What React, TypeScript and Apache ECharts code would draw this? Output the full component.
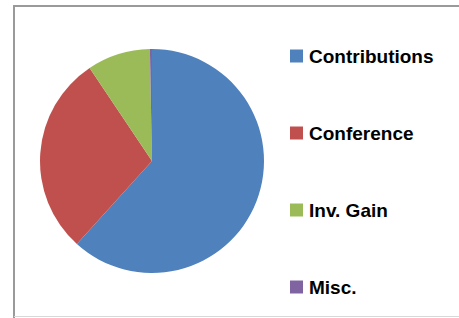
import React, { useEffect, useRef } from "react";
import * as echarts from "echarts";

const categories = ["Contributions", "Conference", "Inv. Gain", "Misc."];
const values = [61.7, 28.9, 9.1, 0.3];
const colors = ["#4F81BD", "#C0504D", "#9BBB59", "#8064A2"];

export default function App() {
  const ref = useRef<HTMLDivElement>(null);
  useEffect(() => {
    if (!ref.current) return;
    const chart = echarts.init(ref.current, undefined, { renderer: "svg" });
    chart.setOption({
      animation: false,
      backgroundColor: "#ffffff",
      color: colors,
      legend: {
        orient: "vertical",
        left: 285,
        top: 41,
        itemWidth: 13,
        itemHeight: 13,
        itemGap: 57,
        icon: "rect",
        textStyle: {
          fontFamily: "Liberation Sans, Arial, sans-serif",
          fontWeight: "bold",
          fontSize: 19,
          lineHeight: 20,
          color: "#000",
          padding: [0, 0, 0, 1],
        },
        data: categories,
      },
      graphic: [
        { type: "line", shape: { x1: 13, y1: 6, x2: 459, y2: 6 }, style: { stroke: "#9a9a9a", lineWidth: 2 } },
        { type: "line", shape: { x1: 14, y1: 5, x2: 14, y2: 318 }, style: { stroke: "#9a9a9a", lineWidth: 2 } },
        { type: "line", shape: { x1: 14, y1: 316.5, x2: 459, y2: 316.5 }, style: { stroke: "#d8d8d8", lineWidth: 1 } },
      ],
      series: [
        {
          type: "pie",
          center: [152, 161],
          radius: 112,
          startAngle: 90,
          clockwise: true,
          label: { show: false },
          labelLine: { show: false },
          emphasis: { disabled: true },
          itemStyle: { borderWidth: 0 },
          data: categories.map((c, i) => ({ name: c, value: values[i] })),
        },
      ],
    });
    return () => chart.dispose();
  }, []);
  return (
    <div
      ref={ref}
      style={{ position: "fixed", left: 0, top: 0, width: 459, height: 318 }}
    />
  );
}
